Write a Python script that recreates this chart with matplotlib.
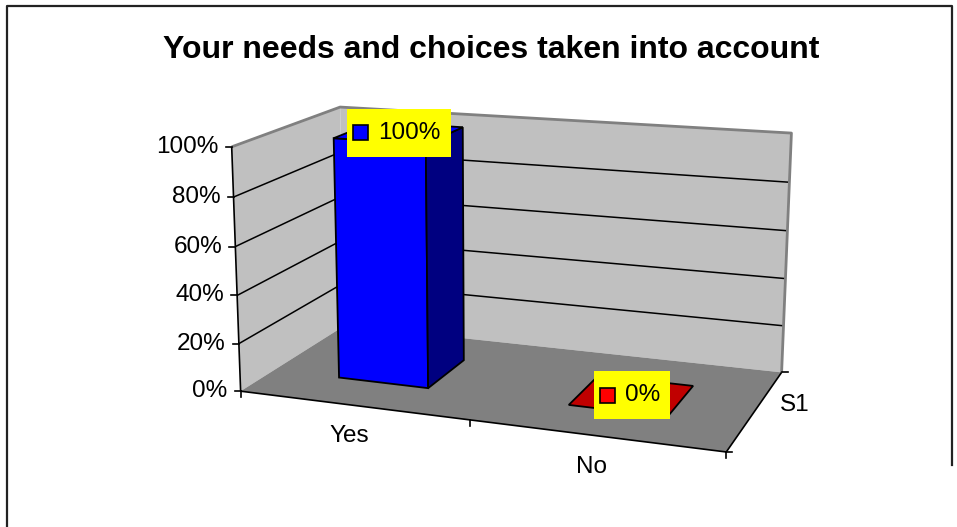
import numpy as np
import matplotlib
matplotlib.use('Agg')
import matplotlib.pyplot as plt
from matplotlib.patches import Polygon, Rectangle

title = 'Your needs and choices taken into account'
categories = ['Yes', 'No']
series_name = 'S1'
values = [1.00, 0.00]
value_ticks = [0.0, 0.2, 0.4, 0.6, 0.8, 1.0]
value_labels = ['0%', '20%', '40%', '60%', '80%', '100%']

front_colors = ['#0000FF', '#FF0000']
side_colors = ['#000080', '#800000']
top_colors = ['#0000FF', '#C00000']

W, H = 957, 527
FONT = 'Liberation Sans'
n = len(categories)

# corners of the 3-D plot box: (category, value, depth) -> page position
box_world = np.array([[0, 0, 0], [0, 1, 0], [0, 1, 1], [0, 0, 1],
                      [n, 1, 1], [n, 0, 1], [n, 0, 0], [1, 0, 0]], float)
box_page = np.array([[242, 391], [230, 147], [342, 107], [343, 326],
                     [791, 133], [782, 372], [726, 453], [471, 419]], float)


def fit_camera(world, page):
    c, s = page.mean(axis=0), 300.0
    p = (page - c) / s
    rows = []
    for (X, Y, Z), (u, v) in zip(world, p):
        rows.append([X, Y, Z, 1, 0, 0, 0, 0, -u * X, -u * Y, -u * Z, -u])
        rows.append([0, 0, 0, 0, X, Y, Z, 1, -v * X, -v * Y, -v * Z, -v])
    _, _, vt = np.linalg.svd(np.array(rows))
    return vt[-1].reshape(3, 4), c, s


CAM, CENTER, SCALE = fit_camera(box_world, box_page)


def proj(pts):
    pts = np.atleast_2d(np.asarray(pts, float))
    h = np.hstack([pts, np.ones((len(pts), 1))]) @ CAM.T
    return h[:, :2] / h[:, 2:3] * SCALE + CENTER


def face(ax, pts, fc, ec='black', lw=1.3, z=2):
    ax.add_patch(Polygon(proj(pts), closed=True, fc=fc, ec=ec, lw=lw,
                         joinstyle='miter', zorder=z))


def line(ax, pts, color='black', lw=1.2, z=3):
    xy = proj(pts)
    ax.plot(xy[:, 0], xy[:, 1], color=color, lw=lw, zorder=z,
            solid_capstyle='butt')


fig = plt.figure(figsize=(W / 100, H / 100), dpi=100)
ax = fig.add_axes([0, 0, 1, 1])
ax.set_xlim(0, W)
ax.set_ylim(H, 0)
ax.axis('off')

# outer chart frame
ax.plot([7, 7, 952, 952], [527, 6, 6, 465], color='#222222', lw=1.6, zorder=1)

ax.text(491, 58, title, fontsize=23, fontweight='bold', family=FONT,
        ha='center', va='baseline')

# walls and floor
face(ax, [[0, 0, 0], [0, 1, 0], [0, 1, 1], [0, 0, 1]], '#C0C0C0', ec='none', z=1)
face(ax, [[0, 0, 1], [n, 0, 1], [n, 1, 1], [0, 1, 1]], '#C0C0C0', ec='none', z=1)
face(ax, [[0, 0, 0], [n, 0, 0], [n, 0, 1], [0, 0, 1]], '#808080', ec='none', z=1.5)

for v in value_ticks[1:-1]:
    line(ax, [[0, v, 0], [0, v, 1], [n, v, 1]], lw=1.1, z=1.2)
line(ax, [[0, 1, 0], [0, 1, 1], [n, 1, 1], [n, 0, 1]], color='#808080', lw=2, z=1.2)

# axes
line(ax, [[0, 0, 0], [0, 1, 0]])
line(ax, [[0, 0, 0], [n, 0, 0], [n, 0, 1]])

for v, lab in zip(value_ticks, value_labels):
    x, y = proj([0, v, 0])[0]
    ax.plot([x - 6, x], [y, y], color='black', lw=1.2, zorder=3)
    ax.text(x - 13, y, lab, fontsize=17.5, family=FONT, ha='right', va='center')

for i in range(n + 1):
    x, y = proj([i, 0, 0])[0]
    ax.plot([x, x], [y, y + 6], color='black', lw=1.2, zorder=3)
for d in (0, 1):
    x, y = proj([n, 0, d])[0]
    ax.plot([x, x + 6], [y, y], color='black', lw=1.2, zorder=3)

for i, lab in enumerate(categories):
    x, y = proj([i + 0.5, 0, 0])[0]
    ax.text(x - 3, y + 31, lab, fontsize=17.5, family=FONT, ha='center', va='center')

x, y = proj([n, 0, 0.5])[0]
ax.text(x + 24, y - 5, series_name, fontsize=17.5, family=FONT, ha='left', va='center')

# columns: 150% gap width and gap depth
x_lo, x_hi, z_lo, z_hi = 0.3, 0.7, 0.3, 0.7
for i, v in enumerate(values):
    a, b = i + x_lo, i + x_hi
    if v > 0:
        face(ax, [[a, 0, z_lo], [b, 0, z_lo], [b, v, z_lo], [a, v, z_lo]], front_colors[i], z=4)
        face(ax, [[b, 0, z_lo], [b, 0, z_hi], [b, v, z_hi], [b, v, z_lo]], side_colors[i], z=4)
    face(ax, [[a, v, z_lo], [b, v, z_lo], [b, v, z_hi], [a, v, z_hi]], top_colors[i], z=4)

# data labels with legend key
renderer = fig.canvas.get_renderer()
for i, v in enumerate(values):
    cx, cy = proj([i + 0.5, v, 0.5])[0]
    t = ax.text(0, 0, f'{v:.0%}', fontsize=17.5, family=FONT, ha='left',
                va='center', zorder=6)
    tw = t.get_window_extent(renderer).width
    bw, bh = tw + 41, 48
    x0 = cx - bw / 2
    ax.add_patch(Rectangle((x0, cy - bh / 2), bw, bh, fc='#FFFF00', ec='none', zorder=5))
    ax.add_patch(Rectangle((x0 + 6, cy - 7.5), 15, 15, fc=front_colors[i],
                           ec='black', lw=1.2, zorder=6))
    t.set_position((x0 + 31, cy))

fig.savefig('out.png', dpi=100)
